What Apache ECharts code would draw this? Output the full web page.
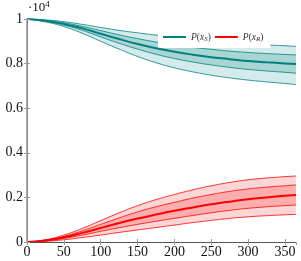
<!DOCTYPE html>
<html><head><meta charset="utf-8">
<script src="https://cdn.jsdelivr.net/npm/echarts@6/dist/echarts.min.js"></script>
<style>html,body{margin:0;padding:0;background:#fff}#c{width:301px;height:261px}</style>
</head><body><div id="c"></div>
<script>
// values in units of 10^4
var days   = [0, 25, 50, 75, 100, 125, 150, 175, 200, 225, 250, 275, 300, 325, 350, 365];
var sMean  = [1, 0.992, 0.978, 0.958, 0.934, 0.910, 0.888, 0.869, 0.853, 0.840, 0.829, 0.820, 0.812, 0.806, 0.801, 0.798];
var sOutHi = [1, 0.996, 0.988, 0.976, 0.962, 0.949, 0.938, 0.928, 0.919, 0.910, 0.902, 0.895, 0.889, 0.884, 0.880, 0.877];
var sInHi  = [1, 0.994, 0.983, 0.967, 0.948, 0.929, 0.912, 0.897, 0.884, 0.873, 0.864, 0.856, 0.850, 0.845, 0.841, 0.839];
var sInLo  = [1, 0.990, 0.973, 0.949, 0.920, 0.891, 0.865, 0.842, 0.823, 0.807, 0.794, 0.783, 0.774, 0.767, 0.761, 0.757];
var sOutLo = [1, 0.987, 0.966, 0.936, 0.900, 0.865, 0.832, 0.804, 0.781, 0.763, 0.748, 0.736, 0.726, 0.718, 0.711, 0.706];
var rMean  = [0, 0.007, 0.021, 0.041, 0.063, 0.085, 0.105, 0.123, 0.140, 0.155, 0.169, 0.181, 0.192, 0.200, 0.207, 0.211];
var rOutHi = [0, 0.010, 0.031, 0.061, 0.096, 0.131, 0.163, 0.190, 0.213, 0.234, 0.252, 0.267, 0.279, 0.287, 0.293, 0.296];
var rInHi  = [0, 0.008, 0.025, 0.050, 0.079, 0.108, 0.135, 0.158, 0.178, 0.197, 0.213, 0.227, 0.238, 0.246, 0.252, 0.256];
var rInLo  = [0, 0.005, 0.016, 0.031, 0.048, 0.064, 0.079, 0.093, 0.106, 0.119, 0.131, 0.142, 0.151, 0.158, 0.163, 0.166];
var rOutLo = [0, 0.003, 0.010, 0.020, 0.031, 0.043, 0.054, 0.065, 0.076, 0.087, 0.097, 0.106, 0.113, 0.118, 0.122, 0.124];
var xTicks = [0, 50, 100, 150, 200, 250, 300, 350];
var yTicks = [0, 0.2, 0.4, 0.6, 0.8, 1];

function pairs(arr){ return days.map(function(d,i){ return [d, arr[i]]; }); }

var teal = '#008080', red = '#ff0000';
var sLight = '#d4ebeb', sDark = '#aad5d5', rLight = '#ffd6d6', rDark = '#ffadad';

// layered fills: each area fills down to the axis, later layers cover earlier ones
function fill(arr, color, z){
  return {type:'line', smooth:true, symbol:'none', data:pairs(arr), silent:true, z:z,
          lineStyle:{width:0, opacity:0}, areaStyle:{color:color, opacity:1, origin:'start'}};
}
function thin(arr, color){
  return {type:'line', smooth:true, symbol:'none', data:pairs(arr), silent:true, z:3,
          lineStyle:{width:0.8, color:color}};
}

var series = [
  fill(sOutHi, sLight, 1), fill(sInHi, sDark, 1), fill(sInLo, sLight, 1), fill(sOutLo, '#ffffff', 1),
  fill(rOutHi, rLight, 1), fill(rInHi, rDark, 1), fill(rInLo, rLight, 1), fill(rOutLo, '#ffffff', 1),
  thin(sOutLo, teal), thin(sInLo, teal), thin(sInHi, teal), thin(sOutHi, teal),
  thin(rOutLo, red), thin(rInLo, red), thin(rInHi, red), thin(rOutHi, red),
  {name:'S', type:'line', smooth:true, symbol:'none', data:pairs(sMean), lineStyle:{width:2, color:teal}, itemStyle:{color:teal}, z:4},
  {name:'R', type:'line', smooth:true, symbol:'none', data:pairs(rMean), lineStyle:{width:2, color:red}, itemStyle:{color:red}, z:4}
];

var font = 'Liberation Serif';
var axisCol = '#555';
var chart = echarts.init(document.getElementById('c'), null, {renderer:'canvas'});
chart.setOption({
  animation:false,
  textStyle:{fontFamily:font},
  grid:{left:27, right:5, top:19, bottom:19},
  xAxis:[
    {type:'value', min:0, max:365, interval:50, position:'bottom', z:5,
     axisLine:{lineStyle:{color:axisCol, width:1}}, axisTick:{inside:true, length:3, lineStyle:{color:'#999'}},
     axisLabel:{showMaxLabel:false, color:'#111', fontFamily:font, fontSize:14, margin:3,
       formatter:function(v){ return xTicks.indexOf(v)>=0 ? String(v) : ''; }},
     splitLine:{show:false}},
    {type:'value', min:0, max:365, interval:50, position:'top', z:5,
     axisLine:{lineStyle:{color:axisCol, width:1}}, axisTick:{inside:true, length:3, lineStyle:{color:'#999'}},
     axisLabel:{show:false}, splitLine:{show:false}}
  ],
  yAxis:[
    {type:'value', min:0, max:1, interval:0.2, position:'left', z:5,
     axisLine:{show:true, lineStyle:{color:axisCol, width:1}}, axisTick:{show:true, inside:true, length:3, lineStyle:{color:'#999'}},
     axisLabel:{color:'#111', fontFamily:font, fontSize:14, margin:4,
       formatter:function(v){ var r=Math.round(v*10)/10; return yTicks.indexOf(r)>=0 ? String(r) : ''; }},
     splitLine:{show:false}},
    {type:'value', min:0, max:1, interval:0.2, position:'right', z:5,
     axisLine:{show:true, lineStyle:{color:'#999', width:1.5}}, axisTick:{show:true, inside:true, length:3, lineStyle:{color:'#999'}},
     axisLabel:{show:false}, splitLine:{show:false}}
  ],
  legend:{
    data:['S','R'], left:158, top:27, orient:'horizontal', backgroundColor:'#fff',
    padding:[5,7,5,5], itemGap:4, itemWidth:23, itemHeight:2, icon:'rect',
    formatter:function(n){ return '{i|P}{n|(}{i|x}{s|' + n + '}{n|)}'; },
    textStyle:{fontFamily:font, fontSize:9, color:'#333',
      rich:{i:{fontStyle:'italic', fontFamily:font, fontSize:9.5, color:'#333'},
            n:{fontFamily:font, fontSize:9.5, color:'#333'},
            s:{fontStyle:'italic', fontFamily:font, fontSize:7, color:'#333', verticalAlign:'bottom', padding:[5,0,0,0]}}}
  },
  graphic:[{type:'text', left:28, top:0, z:10,
    style:{text:'·10{sup|4}', fontFamily:font, fontSize:13, fill:'#111',
      rich:{sup:{fontSize:9, fontFamily:font, fill:'#111', verticalAlign:'top', padding:[0,0,6,0]}}}}],
  series: series
});
</script></body></html>
